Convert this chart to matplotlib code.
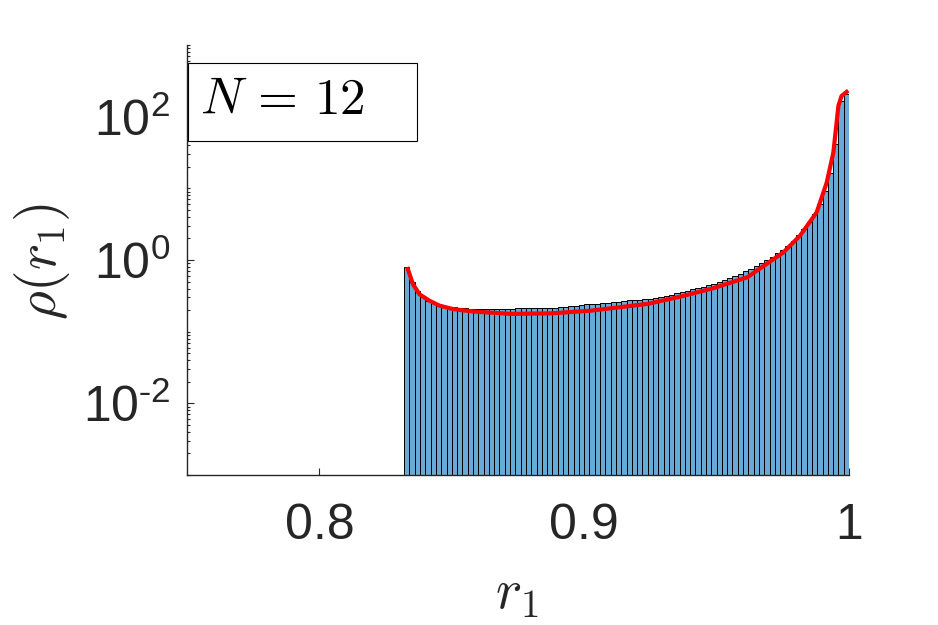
import matplotlib
matplotlib.use('Agg')
import matplotlib.pyplot as plt
import numpy as np
from matplotlib.ticker import FixedLocator, LogLocator, NullFormatter
from matplotlib.patches import Rectangle

# ---------------- data ----------------
bin_start = 0.832
bin_width = 0.002
bar_heights = [
    0.80, 0.496, 0.373, 0.308, 0.268, 0.252, 0.236, 0.228, 0.221, 0.218,
    0.214, 0.213, 0.210, 0.207, 0.207, 0.207, 0.207, 0.207, 0.207, 0.207,
    0.207, 0.211, 0.211, 0.211, 0.211, 0.211, 0.211, 0.211, 0.214, 0.218,
    0.221, 0.226, 0.231, 0.236, 0.240, 0.244, 0.247, 0.252, 0.255, 0.258,
    0.262, 0.266, 0.273, 0.277, 0.280, 0.283, 0.288, 0.295, 0.305, 0.315,
    0.330, 0.343, 0.358, 0.372, 0.388, 0.407, 0.421, 0.441, 0.463, 0.493,
    0.526, 0.561, 0.589, 0.628, 0.703, 0.749, 0.824, 0.910, 0.997, 1.101,
    1.250, 1.382, 1.569, 1.838, 2.228, 2.705, 3.385, 4.378, 6.034, 9.154,
    16.31, 41.44, 164.5, 205.8,
]
curve_x = [0.8334, 0.8353, 0.8378, 0.8415, 0.8453, 0.8504, 0.8554, 0.8591,
           0.8723, 0.8874, 0.9024, 0.9111, 0.9239, 0.9363, 0.9488, 0.9616,
           0.9753, 0.9815, 0.9878, 0.9916, 0.9941, 0.9960, 0.9972, 0.9991]
curve_y = [0.748, 0.463, 0.332, 0.271, 0.231, 0.207, 0.196, 0.190,
           0.177, 0.180, 0.196, 0.214, 0.244, 0.308, 0.404, 0.574,
           1.285, 2.182, 4.626, 12.09, 31.71, 141.7, 194.8, 221.7]
x_ticks = [0.8, 0.9, 1.0]
x_ticklabels = ['0.8', '0.9', '1']
y_ticks = [1e-2, 1e0, 1e2]
y_ticklabels = [r'$\mathdefault{10^{\text{-}2}}$', r'$\mathdefault{10^{0}}$',
                r'$\mathdefault{10^{2}}$']
legend_label = r'$N\,=\,12$'

# ---------------- style ----------------
plt.rcParams['font.family'] = ['Liberation Sans', 'DejaVu Sans']
plt.rcParams['mathtext.fontset'] = 'cm'
axcol = '#262626'

fig = plt.figure(figsize=(9.38, 6.25), dpi=100)
ax = fig.add_axes([187/938, 1-475/625, (849-187)/938, (475-45)/625])

edges = bin_start + bin_width*np.arange(len(bar_heights))
ax.bar(edges, bar_heights, width=bin_width, align='edge',
       color='#66AAD8', edgecolor='black', linewidth=0.7, zorder=2)
ax.plot(curve_x, curve_y, color='#FF0000', lw=3, zorder=3)

ax.set_yscale('log')
ax.set_xlim(0.75, 1.0)
ax.set_ylim(1e-3, 1e3)

ax.xaxis.set_major_locator(FixedLocator(x_ticks))
ax.set_xticklabels(x_ticklabels)
ax.yaxis.set_major_locator(FixedLocator(y_ticks))
ax.set_yticklabels(y_ticklabels)
ax.yaxis.set_minor_locator(LogLocator(base=10, subs=np.arange(1, 10), numticks=30))
ax.yaxis.set_minor_formatter(NullFormatter())

for s in ['top', 'right']:
    ax.spines[s].set_visible(False)
for s in ['left', 'bottom']:
    ax.spines[s].set_color(axcol)
    ax.spines[s].set_linewidth(1.0)

ax.tick_params(axis='both', which='both', direction='in', colors=axcol,
               labelcolor=axcol, width=0.8)
ax.tick_params(axis='x', which='major', length=5, pad=20, labelsize=36)
ax.tick_params(axis='y', which='major', length=5, pad=12, labelsize=36)
ax.tick_params(axis='y', which='minor', length=2.3)

fig.text(517/938, 1-595/625, r'$r_1$', fontsize=40, ha='center', va='center',
         color=axcol)
fig.text(42/938, 1-262/625, r'$\rho(r_1)$', fontsize=40, ha='center',
         va='center', rotation=90, color=axcol)

# legend box
ax.add_patch(Rectangle((0.0015, 0.777), 0.346, 0.181, transform=ax.transAxes,
                       facecolor='white', edgecolor='black', lw=0.8,
                       zorder=5, clip_on=False))
ax.text(0.02, 0.872, legend_label, transform=ax.transAxes, fontsize=37,
        ha='left', va='center', zorder=6, color='black')

fig.savefig('out.png', dpi=100)
